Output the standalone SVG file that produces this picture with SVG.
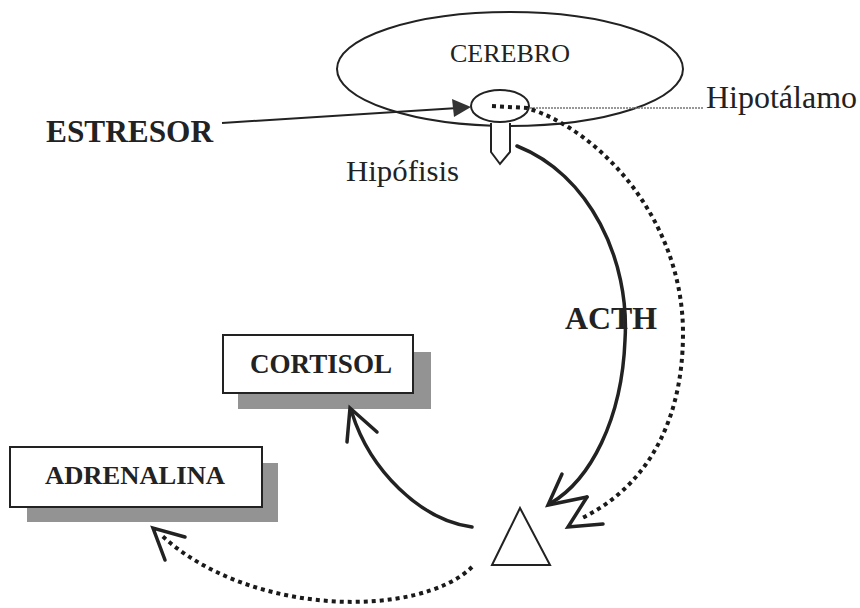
<svg xmlns="http://www.w3.org/2000/svg" width="860" height="608" viewBox="0 0 860 608">
<style>
.t{font-family:"Liberation Serif","Times New Roman",serif;fill:#222}
.b{font-weight:bold}
.sol{fill:none;stroke:#222;stroke-width:3.5;stroke-linecap:round;stroke-linejoin:miter}
.dot{fill:none;stroke:#1a1a1a;stroke-width:4;stroke-dasharray:4 4}
.outline{fill:#fff;stroke:#222;stroke-width:2}
.shadow{fill:#939393}
</style>
<rect width="860" height="608" fill="#fff"/>
<g id="cerebro">
<ellipse cx="510" cy="69" rx="173" ry="57" fill="none" stroke="#222" stroke-width="2"/>
<text class="t" x="510" y="62" font-size="26" text-anchor="middle" textLength="120" lengthAdjust="spacingAndGlyphs">CEREBRO</text>
</g>
<g id="hipofisis">
<path d="M491,123 L491,152 L500,164 L510,152 L510,123" class="outline"/>
<text class="t" x="346" y="181" font-size="30" textLength="113" lengthAdjust="spacingAndGlyphs">Hipófisis</text>
</g>
<g id="hipotalamo">
<ellipse cx="500" cy="106" rx="29" ry="16" class="outline"/>
<line x1="530" y1="108" x2="703" y2="108" stroke="#777" stroke-width="1.3" stroke-dasharray="2 1"/>
<text class="t" x="706" y="108" font-size="31" textLength="151" lengthAdjust="spacingAndGlyphs">Hipotálamo</text>
</g>
<g id="estresor">
<text class="t b" x="46" y="142" font-size="31" textLength="167" lengthAdjust="spacingAndGlyphs">ESTRESOR</text>
</g>
<g id="acth">
<text class="t b" x="565" y="329" font-size="31" textLength="92" lengthAdjust="spacingAndGlyphs">ACTH</text>
</g>
<g id="cortisol">
<rect x="238" y="352" width="193" height="57" class="shadow"/>
<rect x="223" y="335" width="190" height="58" class="outline"/>
<text class="t b" x="321" y="373" font-size="27" text-anchor="middle" textLength="142" lengthAdjust="spacingAndGlyphs">CORTISOL</text>
</g>
<g id="adrenalina">
<rect x="27" y="463" width="251" height="59" class="shadow"/>
<rect x="10" y="447" width="252" height="60" class="outline"/>
<text class="t b" x="135" y="484" font-size="26" text-anchor="middle" textLength="180" lengthAdjust="spacingAndGlyphs">ADRENALINA</text>
</g>
<g id="suprarrenal">
<polygon points="520,508 492,565 550,565" fill="#fff" stroke="#222" stroke-width="2"/>
</g>
<g id="connectors">
<line x1="222" y1="123" x2="458" y2="108" stroke="#222" stroke-width="2"/>
<polygon points="471,107 452,99 454,117" fill="#333"/>
<path class="sol" d="M517,146 C590,175 630,260 625,340 C622,420 590,480 551,503"/>
<polyline class="sol" points="562,474 548,505 587,497"/>
<path class="dot" d="M492,106 L527,108 C600,130 683,220 683,333 C683,430 640,490 582,518"/>
<polyline class="sol" points="587,497 568,527 603,524"/>
<path class="sol" d="M472,527 C420,520 370,470 352,413"/>
<polyline class="sol" points="347,442 350,408 377,432"/>
<path class="dot" d="M472,567 C420,618 250,618 160,534"/>
<polyline class="sol" points="185,537 153,528 165,560"/>
</g>
</svg>
